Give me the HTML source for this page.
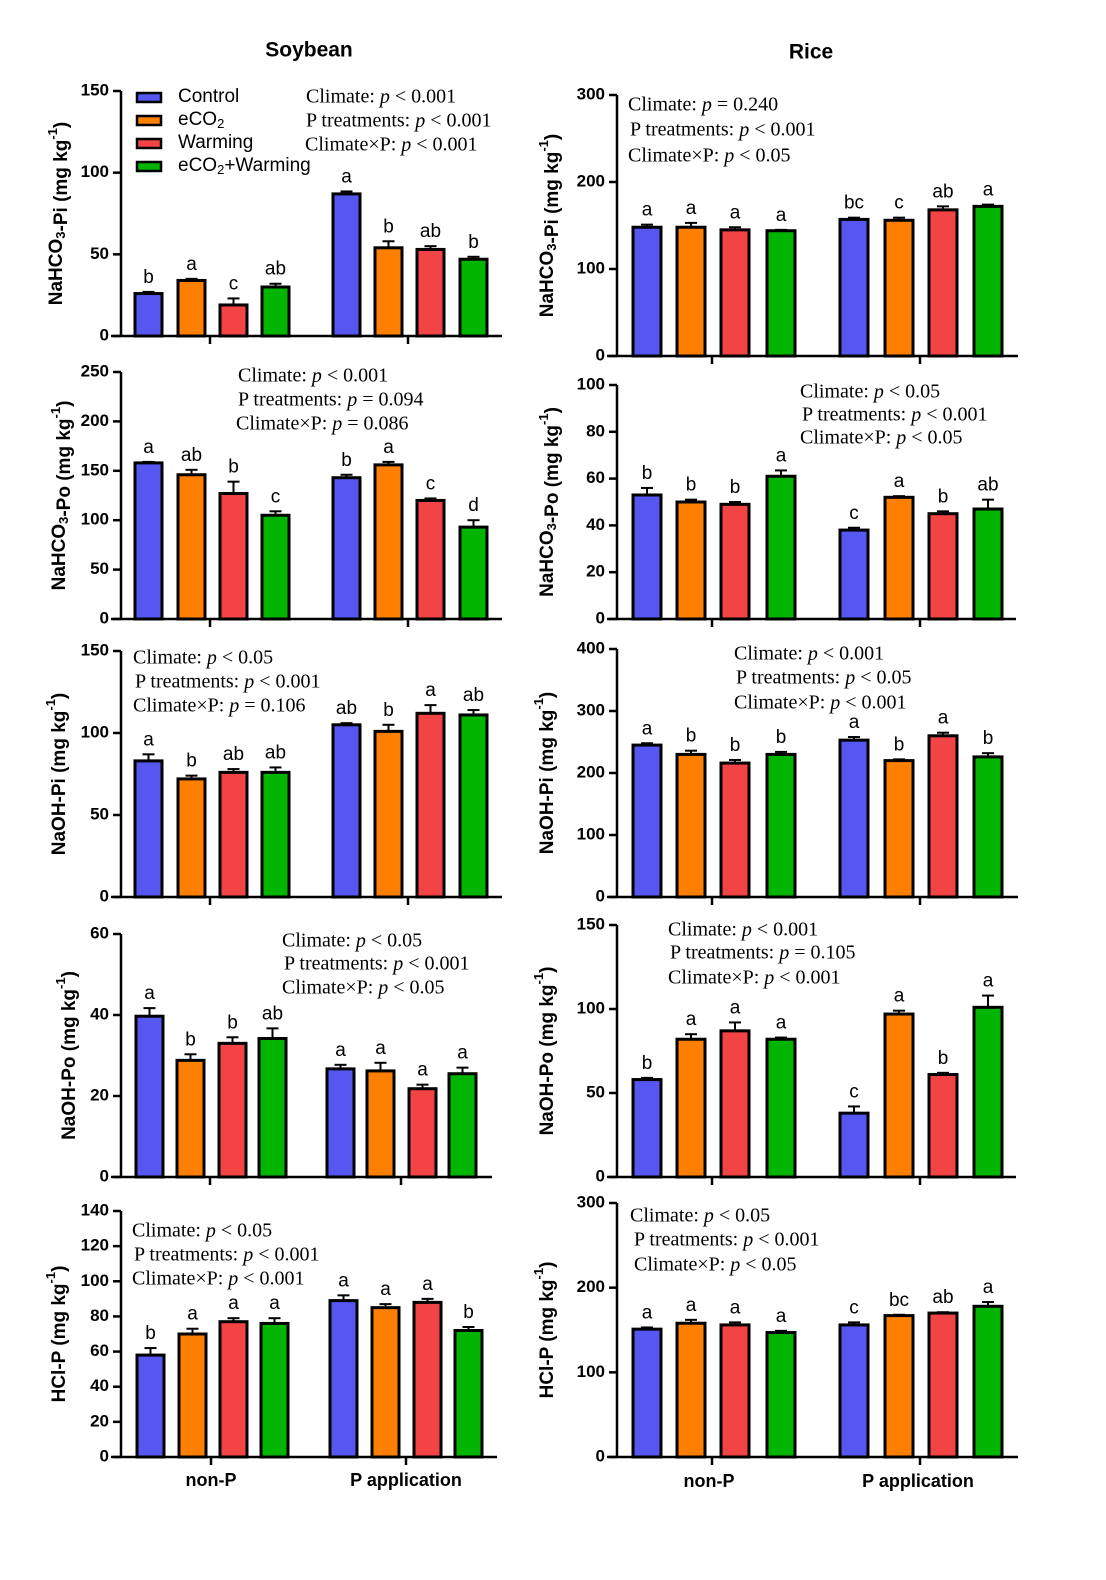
<!DOCTYPE html>
<html><head><meta charset="utf-8"><style>
html,body{margin:0;padding:0;background:#fff;width:1106px;height:1580px;overflow:hidden}
svg{display:block}
svg text{font-family:"Liberation Sans",sans-serif}
.st{font-family:"Liberation Serif",serif;font-size:20px}
.tk{font-weight:bold;font-size:17px}
.yl{font-weight:bold;font-size:19px}
.lt{font-size:19px}
</style></head><body>
<svg id="s" width="1106" height="1580" xmlns="http://www.w3.org/2000/svg"></svg>
<script>
const S=document.getElementById('s');let h='';
const C=['#5656f0','#ff8000','#f24444','#00b400'];
function T(x,y,t,cls,a,ex){h+=`<text x="${x}" y="${y}" class="${cls||''}" text-anchor="${a||'start'}" dominant-baseline="middle" ${ex||''}>${t}</text>`;}
function panel(o){
 const {ax,y0,y1,max,step,xs,w,vals,errs,letters,xend,ctr,stats,sx,sy,label,lx}=o;
 const sc=v=>y0-(v/max)*(y0-y1);
 vals.forEach((v,i)=>{const x=xs[i],top=sc(v),e=sc(v+errs[i]);
  h+=`<line x1="${x+w/2}" y1="${top}" x2="${x+w/2}" y2="${e}" stroke="#000" stroke-width="2"/>`;
  h+=`<line x1="${x+w/2-6}" y1="${e}" x2="${x+w/2+6}" y2="${e}" stroke="#000" stroke-width="2"/>`;
  h+=`<rect x="${x}" y="${top}" width="${w}" height="${y0-top}" fill="${C[i%4]}" stroke="#000" stroke-width="3"/>`;
  T(x+w/2,e-14,letters[i],'lt','middle');
 });
 h+=`<line x1="${ax}" y1="${y1}" x2="${ax}" y2="${y0}" stroke="#000" stroke-width="2.5"/>`;
 h+=`<line x1="${ax-10}" y1="${y0}" x2="${xend}" y2="${y0}" stroke="#000" stroke-width="2.5"/>`;
 ctr.forEach(c=>h+=`<line x1="${c}" y1="${y0}" x2="${c}" y2="${y0+8}" stroke="#000" stroke-width="2.5"/>`);
 for(let v=0;v<=max+1e-6;v+=step){const y=sc(v);
  h+=`<line x1="${ax-8}" y1="${y}" x2="${ax}" y2="${y}" stroke="#000" stroke-width="2.5"/>`;
  T(ax-12,y,v,'tk','end');}
 stats.forEach((s,i)=>T(sx[i],sy[i],s,'st'));
 const cy=(y0+y1)/2;
 h+=`<text class="yl" text-anchor="middle" dominant-baseline="middle" transform="translate(${lx},${cy}) rotate(-90)">${label}</text>`;
}
const P='<tspan font-style="italic">p</tspan>';
const st=(a,b,c)=>[`Climate: ${P} ${a}`,`P treatments: ${P} ${b}`,`Climate×P: ${P} ${c}`];
const sub=t=>`<tspan font-size="13" dy="5">${t}</tspan><tspan dy="-5"></tspan>`;
const unit=`(mg kg<tspan font-size="13" dy="-8">-1</tspan><tspan dy="8">)</tspan>`;
const L=[135,178,220,262,333,375,417,460],R=[633,677,721,767,840,885,929,974];
const Lc=[210,408],Rc=[712,920];
panel({ax:121,y0:336,y1:91,max:150,step:50,xs:L,w:27,vals:[26,34,19,30,87,54,53,47],errs:[1,1,4,2,1.5,4,2,1.5],letters:['b','a','c','ab','a','b','ab','b'],xend:502,ctr:Lc,stats:st('&lt; 0.001','&lt; 0.001','&lt; 0.001'),sx:[306,306,305],sy:[98,122,146],label:`NaHCO${sub(3)}-Pi ${unit}`,lx:57});
panel({ax:121,y0:619,y1:372,max:250,step:50,xs:L,w:27,vals:[158,146,127,105,143,156,120,93],errs:[1,5,12,4,3,3,2,7],letters:['a','ab','b','c','b','a','c','d'],xend:502,ctr:Lc,stats:st('&lt; 0.001','= 0.094','= 0.086'),sx:[238,238,236],sy:[377,401,425],label:`NaHCO${sub(3)}-Po ${unit}`,lx:60});
panel({ax:121,y0:897,y1:651,max:150,step:50,xs:L,w:27,vals:[83,72,76,76,105,101,112,111],errs:[4,2,2,3,1,4,5,3],letters:['a','b','ab','ab','ab','b','a','ab'],xend:502,ctr:Lc,stats:st('&lt; 0.05','&lt; 0.001','= 0.106'),sx:[133,135,133],sy:[659,683,707],label:`NaOH-Pi ${unit}`,lx:60});
panel({ax:121,y0:1177,y1:934,max:60,step:20,xs:[136,177,219,259,327,367,409,449],w:27,vals:[39.7,28.8,33,34.2,26.7,26.2,21.8,25.5],errs:[2,1.5,1.5,2.5,1,2,1,1.5],letters:['a','b','b','ab','a','a','a','a'],xend:492,ctr:[210,401],stats:st('&lt; 0.05','&lt; 0.001','&lt; 0.05'),sx:[282,284,282],sy:[942,965,989],label:`NaOH-Po ${unit}`,lx:70});
panel({ax:121,y0:1457,y1:1211,max:140,step:20,xs:[137,179,220,261,330,372,414,455],w:27,vals:[58,70,77,76,89,85,88,72],errs:[4,3,2,3,3,2,2,2],letters:['b','a','a','a','a','a','a','b'],xend:497,ctr:[211,406],stats:st('&lt; 0.05','&lt; 0.001','&lt; 0.001'),sx:[132,134,132],sy:[1232,1256,1280],label:`HCl-P ${unit}`,lx:60});
panel({ax:617,y0:356,y1:95,max:300,step:100,xs:R,w:28,vals:[148,148,145,144,157,156,168,172],errs:[3,5,3,1,2,3,4,2],letters:['a','a','a','a','bc','c','ab','a'],xend:1018,ctr:Rc,stats:st('= 0.240','&lt; 0.001','&lt; 0.05'),sx:[628,630,628],sy:[106,131,157],label:`NaHCO${sub(3)}-Pi ${unit}`,lx:548});
panel({ax:617,y0:619,y1:385,max:100,step:20,xs:R,w:28,vals:[53,50,49,61,38,52,45,47],errs:[3,1,1,2.5,1,0.5,1,4],letters:['b','b','b','a','c','a','b','ab'],xend:1016,ctr:Rc,stats:st('&lt; 0.05','&lt; 0.001','&lt; 0.05'),sx:[800,802,800],sy:[393,416,439],label:`NaHCO${sub(3)}-Po ${unit}`,lx:548});
panel({ax:617,y0:897,y1:649,max:400,step:100,xs:R,w:28,vals:[245,230,216,230,253,220,260,226],errs:[3,6,5,4,5,2,5,6],letters:['a','b','b','b','a','b','a','b'],xend:1018,ctr:Rc,stats:st('&lt; 0.001','&lt; 0.05','&lt; 0.001'),sx:[734,736,734],sy:[655,679,704],label:`NaOH-Pi ${unit}`,lx:548});
panel({ax:617,y0:1177,y1:925,max:150,step:50,xs:R,w:28,vals:[58,82,87,82,38,97,61,101],errs:[1,3,5,1,4,2,1,7],letters:['b','a','a','a','c','a','b','a'],xend:1016,ctr:Rc,stats:st('&lt; 0.001','= 0.105','&lt; 0.001'),sx:[668,670,668],sy:[931,954,979],label:`NaOH-Po ${unit}`,lx:548});
panel({ax:617,y0:1457,y1:1203,max:300,step:100,xs:R,w:28,vals:[151,158,156,147,156,167,170,178],errs:[2,4,3,2,3,1,1,5],letters:['a','a','a','a','c','bc','ab','a'],xend:1018,ctr:Rc,stats:st('&lt; 0.05','&lt; 0.001','&lt; 0.05'),sx:[630,634,634],sy:[1217,1241,1266],label:`HCl-P ${unit}`,lx:548});
const lg=['Control','eCO<tspan font-size="13" dy="5">2</tspan>','Warming','eCO<tspan font-size="13" dy="5">2</tspan><tspan dy="-5">+Warming</tspan>'];
[97,120,143,166].forEach((y,i)=>{h+=`<rect x="137" y="${y-4}" width="24" height="9" fill="${C[i]}" stroke="#000" stroke-width="2.5"/>`;T(178,y,lg[i],'lt');});
T(309,51,'Soybean','', 'middle','font-weight="bold" font-size="21"');
T(811,53,'Rice','', 'middle','font-weight="bold" font-size="21"');
[[211,1481,'non-P'],[406,1481,'P application'],[709,1482,'non-P'],[918,1482,'P application']].forEach(a=>T(a[0],a[1],a[2],'','middle','font-weight="bold" font-size="18"'));
S.innerHTML=h;
</script>
</body></html>
